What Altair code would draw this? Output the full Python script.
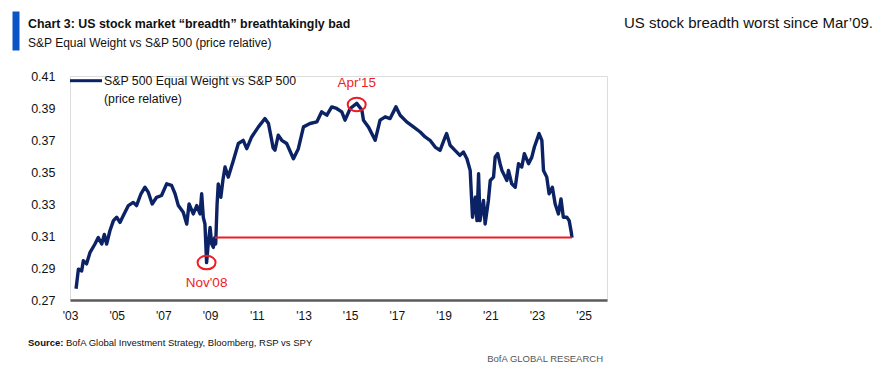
import altair as alt
import pandas as pd

# ---- data ----
years = [2003.26, 2003.36, 2003.50, 2003.57, 2003.71, 2003.86, 2004.07, 2004.21, 2004.36, 2004.47,
         2004.57, 2004.71, 2004.86, 2005.00, 2005.14, 2005.28, 2005.50, 2005.71, 2005.85, 2006.04,
         2006.21, 2006.35, 2006.52, 2006.71, 2006.92, 2007.14, 2007.35, 2007.50, 2007.64, 2007.85,
         2008.00, 2008.10, 2008.28, 2008.43, 2008.57, 2008.64, 2008.71, 2008.78, 2008.85, 2008.92,
         2009.00, 2009.07, 2009.14, 2009.20, 2009.24, 2009.30, 2009.35, 2009.46, 2009.55, 2009.64,
         2009.78, 2010.00, 2010.21, 2010.42, 2010.57, 2010.78, 2011.07, 2011.35, 2011.50, 2011.64,
         2011.70, 2011.78, 2011.92, 2012.07, 2012.28, 2012.57, 2012.78, 2013.00, 2013.28, 2013.57,
         2013.78, 2014.00, 2014.21, 2014.42, 2014.64, 2014.78, 2015.00, 2015.28, 2015.50, 2015.57,
         2015.78, 2016.00, 2016.07, 2016.28, 2016.50, 2016.71, 2016.96, 2017.14, 2017.42, 2017.71,
         2018.00, 2018.21, 2018.42, 2018.64, 2018.85, 2019.07, 2019.13, 2019.28, 2019.49, 2019.70,
         2019.85, 2020.00, 2020.14, 2020.24, 2020.36, 2020.43, 2020.50, 2020.56, 2020.71, 2020.78,
         2020.92, 2021.00, 2021.14, 2021.21, 2021.32, 2021.42, 2021.50, 2021.64, 2021.71, 2021.78,
         2021.92, 2022.07, 2022.21, 2022.35, 2022.46, 2022.64, 2022.78, 2022.89, 2022.99, 2023.09,
         2023.21, 2023.28, 2023.42, 2023.52, 2023.66, 2023.78, 2023.92, 2024.03, 2024.13, 2024.28,
         2024.38, 2024.47, 2024.50]
values = [0.2770, 0.2893, 0.2882, 0.2945, 0.2926, 0.2998, 0.3050, 0.3090, 0.3050, 0.3110,
          0.3050, 0.3133, 0.3196, 0.3217, 0.3185, 0.3227, 0.3290, 0.3310, 0.3290, 0.3364,
          0.3405, 0.3374, 0.3300, 0.3342, 0.3353, 0.3426, 0.3416, 0.3364, 0.3290, 0.3248,
          0.3175, 0.3300, 0.3238, 0.3290, 0.3238, 0.3364, 0.3217, 0.3175, 0.2934, 0.3050,
          0.3154, 0.3050, 0.3029, 0.3090, 0.3050, 0.3300, 0.3426, 0.3342, 0.3450, 0.3531,
          0.3468, 0.3573, 0.3678, 0.3698, 0.3646, 0.3719, 0.3782, 0.3834, 0.3803, 0.3698,
          0.3650, 0.3636, 0.3730, 0.3698, 0.3678, 0.3583, 0.3646, 0.3782, 0.3803, 0.3813,
          0.3876, 0.3855, 0.3907, 0.3897, 0.3876, 0.3824, 0.3897, 0.3929, 0.3887, 0.3824,
          0.3782, 0.3719, 0.3698, 0.3824, 0.3845, 0.3834, 0.3907, 0.3855, 0.3813, 0.3782,
          0.3750, 0.3719, 0.3698, 0.3656, 0.3635, 0.3719, 0.3740, 0.3667, 0.3635, 0.3604,
          0.3625, 0.3583, 0.3510, 0.3217, 0.3342, 0.3196, 0.3489, 0.3196, 0.3322, 0.3175,
          0.3322, 0.3447, 0.3468, 0.3593, 0.3615, 0.3552, 0.3510, 0.3468, 0.3447, 0.3510,
          0.3426, 0.3405, 0.3552, 0.3531, 0.3615, 0.3552, 0.3593, 0.3656, 0.3698, 0.3740,
          0.3698, 0.3510, 0.3468, 0.3364, 0.3405, 0.3300, 0.3238, 0.3332, 0.3217, 0.3217,
          0.3196, 0.3123, 0.3090]

flat_start = [2009.20]
flat_end = [2024.50]
flat_level = [0.309]

ann_labels = ["Nov'08", "Apr'15"]
ann_years = [2008.85, 2015.28]
ann_values = [0.2934, 0.3922]
ann_label_values = [0.2807, 0.4058]

x_ticks = [2003, 2005, 2007, 2009, 2011, 2013, 2015, 2017, 2019, 2021, 2023, 2025]
y_ticks = [0.27, 0.29, 0.31, 0.33, 0.35, 0.37, 0.39, 0.41]

series_name = "S&P 500 Equal Weight vs S&P 500"
series_name2 = "(price relative)"
title_text = "Chart 3: US stock market \u201cbreadth\u201d breathtakingly bad"
subtitle_text = "S&P Equal Weight vs S&P 500 (price relative)"
side_text = "US stock breadth worst since Mar\u201909."
source_bold = "Source:"
source_text = "BofA Global Investment Strategy, Bloomberg, RSP vs SPY"
brand_text = "BofA GLOBAL RESEARCH"

# ---- styling ----
NAVY = "#0b2265"
RED = "#ee1c25"
BLUE = "#0a54c8"
W, H = 537, 224
REG = "Liberation Sans, Arial, sans-serif"

df = pd.DataFrame({"year": years, "value": values})
flat_df = pd.DataFrame({"x": flat_start, "x2": flat_end, "y": flat_level})
ann_df = pd.DataFrame({"label": ann_labels, "year": ann_years, "value": ann_values,
                       "lv": ann_label_values})
one = pd.DataFrame({"a": [0]})

xs = alt.Scale(domain=[2003, 2026], nice=False, zero=False)
ys = alt.Scale(domain=[0.27, 0.41], nice=False, zero=False)

x_axis = alt.Axis(values=x_ticks, labelExpr="\"'\" + slice(toString(datum.value), 2)",
                  grid=False, ticks=False, domainColor="#5a5a5a", domainWidth=2.5,
                  labelPadding=10, labelFontSize=12, labelFont=REG, labelColor="#111",
                  labelFlush=False, labelOverlap=False, title=None)
y_axis = alt.Axis(values=y_ticks, format=".2f", grid=False, ticks=False, domain=False,
                  labelPadding=15, labelFontSize=12.5, labelFont=REG, labelColor="#111",
                  labelOverlap=False, labelFlush=False, title=None)

X = lambda f: alt.X(f, scale=xs, axis=x_axis)
Y = lambda f: alt.Y(f, scale=ys, axis=y_axis)

line = alt.Chart(df).mark_line(color=NAVY, strokeWidth=3.4, strokeJoin="round").encode(
    x=X("year:Q"), y=Y("value:Q"),
)

flat = alt.Chart(flat_df).mark_rule(color=RED, strokeWidth=2).encode(
    x=X("x:Q"), x2="x2:Q", y=Y("y:Q")
)

ellipse = "M-1,0 A1,0.75 0 1,1 1,0 A1,0.75 0 1,1 -1,0 Z"
circles = alt.Chart(ann_df).mark_point(shape=ellipse, size=324, filled=False,
                                       stroke=RED, strokeWidth=2, opacity=1).encode(
    x=X("year:Q"), y=Y("value:Q")
)
ann_text = alt.Chart(ann_df).mark_text(color=RED, fontSize=13.5, font=REG,
                                       baseline="middle", align="center").encode(
    x=X("year:Q"), y=Y("lv:Q"), text="label:N"
)

def txt(text, x, y, size, bold=False, color="#111", align="left"):
    return alt.Chart(one).mark_text(text=text, fontSize=size, font=REG,
                                    fontWeight="bold" if bold else "normal",
                                    color=color, align=align, baseline="middle").encode(
        x=alt.value(x), y=alt.value(y))

legend_line = alt.Chart(one).mark_rule(color=NAVY, strokeWidth=3).encode(
    x=alt.value(0), x2=alt.value(32), y=alt.value(4.7))

bar = alt.Chart(one).mark_rect(color=BLUE).encode(
    x=alt.value(-57.5), x2=alt.value(-50.5), y=alt.value(-64.5), y2=alt.value(-25.5))

chart = alt.layer(
    line, flat, circles, ann_text, legend_line, bar,
    txt(series_name, 34, 4.5, 12.3),
    txt(series_name2, 34, 22.5, 12.3),
    txt(title_text, -42, -52, 12.4, bold=True),
    txt(subtitle_text, -42, -33, 12),
    txt(side_text, 803, -53, 15, align="right"),
    txt(source_bold, -42, 267, 9.5, bold=True),
    txt(source_text, -4, 267, 9.5),
    txt(brand_text, 533, 283, 9.5, color="#555", align="right"),
).properties(
    width=W, height=H,
    autosize=alt.AutoSizeParams(type="none"),
    padding={"left": 62, "top": 68, "right": 267, "bottom": 64},
).configure_view(stroke=None).configure(background="white")

chart.save("out.html", embed_options={"renderer": "svg", "actions": False})
